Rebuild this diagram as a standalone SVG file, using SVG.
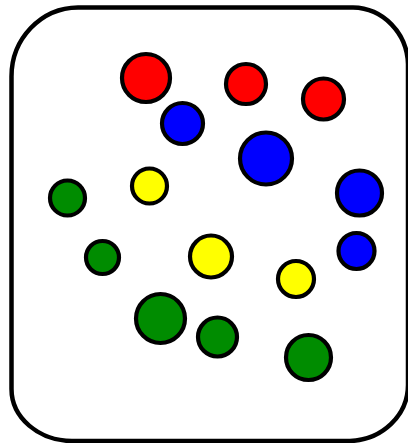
<svg xmlns="http://www.w3.org/2000/svg" width="408" height="443" viewBox="0 0 408 443">
<style>
.b{fill:#fff;stroke:#000;stroke-width:4.5}
circle{stroke:#000;stroke-width:4.2}
.r{fill:#ff0000}.u{fill:#0000ff}.g{fill:#008c00}.y{fill:#ffff00}
</style>
<rect width="408" height="443" fill="#fff"/>
<g id="box"><path class="b" d="M11.5,77 A67,69 0 0 1 78,7.5 L353,7.5 A56,58 0 0 1 408,64 L408,385 A60,56 0 0 1 350,441 L72,441 A61,52 0 0 1 11.5,389 Z"/></g>
<g id="dots">
<circle id="c1" class="r" cx="146" cy="78" r="24"/>
<circle id="c2" class="r" cx="246" cy="84" r="20"/>
<circle id="c3" class="r" cx="323.5" cy="99" r="20.5"/>
<circle id="c4" class="u" cx="182.5" cy="123.5" r="20.5"/>
<circle id="c5" class="u" cx="266" cy="158.5" r="26"/>
<circle id="c6" class="g" cx="67.5" cy="198" r="17.5"/>
<circle id="c7" class="y" cx="149.5" cy="186" r="17.5"/>
<circle id="c8" class="u" cx="359.5" cy="193" r="22.5"/>
<circle id="c9" class="g" cx="102.5" cy="257.5" r="16.5"/>
<circle id="c10" class="y" cx="211" cy="256.5" r="21"/>
<circle id="c11" class="u" cx="356.5" cy="251" r="18"/>
<circle id="c12" class="y" cx="296" cy="279" r="18"/>
<circle id="c13" class="g" cx="160.5" cy="318.5" r="24.5"/>
<circle id="c14" class="g" cx="217.5" cy="337" r="19.5"/>
<circle id="c15" class="g" cx="308.5" cy="357.5" r="22.5"/>
</g>
</svg>
